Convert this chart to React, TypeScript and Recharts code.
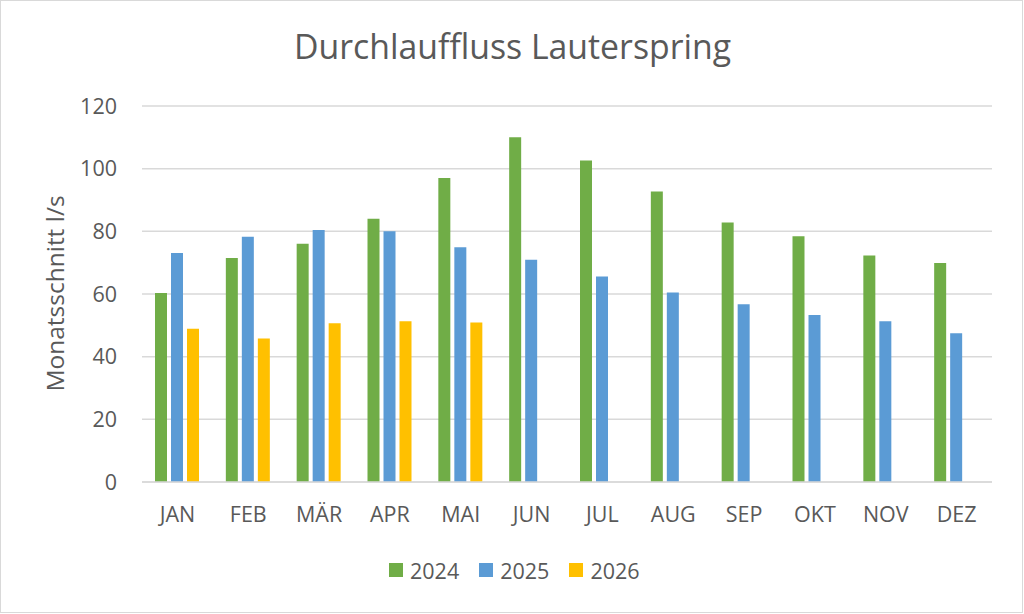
import React from 'react';
import { BarChart, Bar, XAxis, YAxis, CartesianGrid } from 'recharts';

const months = ['JAN', 'FEB', 'MÄR', 'APR', 'MAI', 'JUN', 'JUL', 'AUG', 'SEP', 'OKT', 'NOV', 'DEZ'];
const flow2024 = [60.3, 71.5, 76.0, 84.0, 97.0, 110.0, 102.6, 92.7, 82.8, 78.4, 72.3, 69.9];
const flow2025 = [73.1, 78.3, 80.4, 80.0, 74.9, 70.9, 65.6, 60.5, 56.7, 53.3, 51.3, 47.5];
const flow2026 = [48.9, 45.8, 50.7, 51.3, 50.9, null, null, null, null, null, null, null];
const yTicks = [0, 20, 40, 60, 80, 100, 120];

const series = [
  { key: 'y2024', name: '2024', color: '#70AD47' },
  { key: 'y2025', name: '2025', color: '#5B9BD5' },
  { key: 'y2026', name: '2026', color: '#FFC000' },
];

const data = months.map((m, i) => ({
  name: m,
  y2024: flow2024[i],
  y2025: flow2025[i],
  y2026: flow2026[i],
}));

const FONT = '"Open Sans", sans-serif';
const TEXT = '#595959';
const GRID = '#d9d9d9';

export default function App() {
  return (
    <div
      style={{
        position: 'absolute',
        left: 0,
        top: 0,
        width: 1023,
        height: 613,
        boxSizing: 'border-box',
        border: `1px solid ${GRID}`,
        background: '#fff',
      }}
    >
      <BarChart
        width={1021}
        height={611}
        data={data}
        margin={{ top: 105, right: 30, left: 0, bottom: 100 }}
        barSize={12}
        barGap={4}
      >
        <text x={511.5} y={58} textAnchor="middle" fontFamily={FONT} fontSize={33.8} fill={TEXT}>
          Durchlauffluss Lauterspring
        </text>
        <text
          x={62.5}
          y={292.5}
          textAnchor="middle"
          fontFamily={FONT}
          fontSize={24.5}
          fill={TEXT}
          transform="rotate(-90 62.5 292.5)"
        >
          Monatsschnitt l/s
        </text>
        <CartesianGrid vertical={false} stroke={GRID} strokeWidth={1.5} />
        <XAxis
          dataKey="name"
          height={30}
          interval={0}
          axisLine={{ stroke: GRID, strokeWidth: 1.5 }}
          tickLine={false}
          tickMargin={19}
          tick={{ fill: TEXT, fontSize: 21.5, fontFamily: FONT }}
        />
        <YAxis
          width={141}
          domain={[0, 120]}
          ticks={yTicks}
          axisLine={false}
          tickLine={false}
          tickMargin={19}
          tick={{ fill: TEXT, fontSize: 21.5, fontFamily: FONT }}
        />
        {series.map((s) => (
          <Bar key={s.key} dataKey={s.key} name={s.name} fill={s.color} isAnimationActive={false} />
        ))}
      </BarChart>
      <div
        style={{
          position: 'absolute',
          left: 388,
          top: 555,
          display: 'flex',
          alignItems: 'center',
          height: 28,
          fontFamily: FONT,
          fontSize: 21.5,
          color: TEXT,
        }}
      >
        {series.map((s) => (
          <div key={s.key} style={{ display: 'flex', alignItems: 'center', marginRight: 20 }}>
            <span style={{ display: 'inline-block', width: 14, height: 14, background: s.color, marginRight: 7 }} />
            <span>{s.name}</span>
          </div>
        ))}
      </div>
    </div>
  );
}
